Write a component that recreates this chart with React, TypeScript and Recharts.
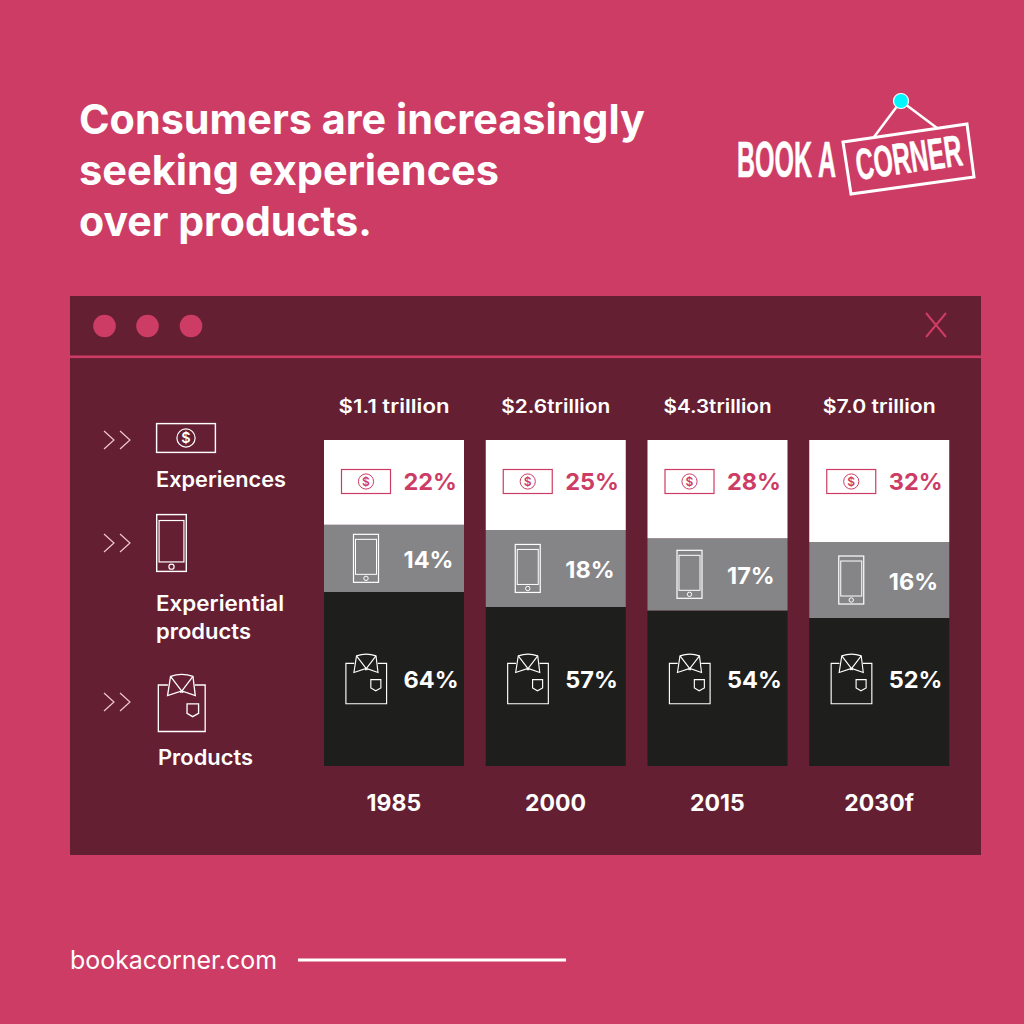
import React from "react";
import { BarChart, Bar, XAxis, YAxis, LabelList } from "recharts";

const years = ["1985", "2000", "2015", "2030f"];
const totals = ["$1.1 trillion", "$2.6trillion", "$4.3trillion", "$7.0 trillion"];
const totalWidths = [111, 109, 108, 113];
// Drawn heights of the segments (share of each bar, as pictured)
const experiencesDrawn = [26.0, 27.6, 30.1, 31.3];
const experientialDrawn = [20.6, 23.6, 22.2, 23.3];
const productsDrawn = [53.4, 48.8, 47.7, 45.4];
// Printed labels
const experiencesLabels = ["22%", "25%", "28%", "32%"];
const experientialLabels = ["14%", "18%", "17%", "16%"];
const productsLabels = ["64%", "57%", "54%", "52%"];
const titleLines = ["Consumers are increasingly", "seeking experiences", "over products."];
const titleWidths = [566, 420, 293];

const data = years.map((year, i) => ({
  year,
  products: productsDrawn[i],
  experiential: experientialDrawn[i],
  experiences: experiencesDrawn[i],
}));

const PINK = "#CD3C64";
const PANEL = "#641F32";
const BLACK = "#1E1E1C";
const GRAY = "#858587";
const FONT = "Inter, Lato, 'Open Sans', sans-serif";
const NARROW = "'Liberation Sans Narrow', 'Liberation Sans', sans-serif";

const Money = ({ x, y, w, h, color }: any) => (
  <svg x={x} y={y} width={w} height={h} viewBox="0 0 50 25" overflow="visible">
    <rect x={0.5} y={0.5} width={49} height={24} fill="none" stroke={color} strokeWidth={1.2} />
    <circle cx={25} cy={12.5} r={7.6} fill="none" stroke={color} strokeWidth={1} />
    <text x={25} y={17} textAnchor="middle" fontSize={12} fontWeight={600} fontFamily={FONT} fill={color}>$</text>
  </svg>
);

const Phone = ({ x, y, w, h, color }: any) => (
  <svg x={x} y={y} width={w} height={h} viewBox="0 0 26 49" overflow="visible">
    <rect x={0.5} y={0.5} width={25} height={48} fill="none" stroke={color} strokeWidth={1.2} />
    <rect x={2.5} y={5.5} width={21} height={35} fill="none" stroke={color} strokeWidth={1} />
    <circle cx={13} cy={44.5} r={2.2} fill="none" stroke={color} strokeWidth={1} />
  </svg>
);

const Shirt = ({ x, y, w, h, color }: any) => (
  <svg x={x} y={y} width={w} height={h} viewBox="0 0 144 178" overflow="visible">
    <g fill="none" stroke={color} strokeWidth={4}>
      <path d="M30 36 H1 V177 H143 V36 H112" />
      <path d="M38 10 Q72 -2 106 10 L113 68 L72 54 L29 68 Z" />
      <path d="M38 10 L76 60 M106 10 L68 60" />
      <path d="M88 93 H123 V122 L105 132 L88 122 Z" />
    </g>
  </svg>
);

const Chevrons = ({ x, y }: any) => (
  <g fill="none" stroke="#F0C6D2" strokeWidth={1.2}>
    <path d={`M${x} ${y} L${x + 10} ${y + 9} L${x} ${y + 18}`} />
    <path d={`M${x + 16} ${y} L${x + 26} ${y + 9} L${x + 16} ${y + 18}`} />
  </g>
);

const Pct = ({ x, y, color, children }: any) => (
  <text x={x} y={y} fontFamily={FONT} fontWeight={700} fontSize={23.5} fill={color}>{children}</text>
);

const experiencesLabel = (p: any) => {
  const { x, y, width, index } = p;
  return (
    <g>
      <text x={x + width / 2 - totalWidths[index] / 2} y={y - 27} fontFamily={FONT} fontWeight={600} fontSize={18.5} fill="#fff" textLength={totalWidths[index]} lengthAdjust="spacingAndGlyphs">
        {totals[index]}
      </text>
      <Money x={x + 17} y={y + 29} w={50} h={25} color={PINK} />
      <Pct x={x + 79.5} y={y + 50} color={PINK}>{experiencesLabels[index]}</Pct>
    </g>
  );
};

const experientialLabel = (p: any) => {
  const { x, y, height, index } = p;
  const c = y + height / 2;
  return (
    <g>
      <Phone x={x + 29} y={c - 24.5} w={26} h={49} color="#fff" />
      <Pct x={x + 79.5} y={c + 9.5} color="#fff">{experientialLabels[index]}</Pct>
    </g>
  );
};

const productsLabel = (p: any) => {
  const { x, y, height, index } = p;
  const b = y + height;
  return (
    <g>
      <Shirt x={x + 21.5} y={b - 113} w={41.5} h={51} color="#fff" />
      <Pct x={x + 79.5} y={b - 78} color="#fff">{productsLabels[index]}</Pct>
    </g>
  );
};

export default function App() {
  return (
    <div style={{ position: "absolute", left: 0, top: 0, width: 1024, height: 1024, background: PINK, overflow: "hidden" }}>
      <svg width={1024} height={1024} style={{ position: "absolute", left: 0, top: 0 }}>
        {titleLines.map((t, i) => (
          <text key={t} x={79} y={134 + i * 51} fontFamily={FONT} fontWeight={700} fontSize={41} fill="#fff" textLength={titleWidths[i]} lengthAdjust="spacingAndGlyphs">{t}</text>
        ))}

        {/* logo */}
        <text x={737} y={177} fontFamily={NARROW} fontWeight={700} fontSize={50} fill="#fff" stroke="#fff" strokeWidth={0.6} textLength={99} lengthAdjust="spacingAndGlyphs">BOOK A</text>
        <polygon points="843,142 967,124 974,177 851,194" fill="none" stroke="#fff" strokeWidth={3} />
        <path d="M874 137 L901 101 L937 128" fill="none" stroke="#fff" strokeWidth={2.5} />
        <circle cx={901} cy={101} r={7.5} fill="#00F5FF" stroke="#fff" strokeWidth={1.2} />
        <text transform="translate(858 180) rotate(-8)" fontFamily={NARROW} fontWeight={700} fontSize={44} fill="#fff" stroke="#fff" strokeWidth={0.5} textLength={107} lengthAdjust="spacingAndGlyphs">CORNER</text>

        {/* window */}
        <rect x={70} y={296} width={911} height={559} fill={PANEL} />
        <rect x={70} y={355.5} width={911} height={2.6} fill={PINK} />
        {[104.5, 147.5, 191].map((cx) => (
          <circle key={cx} cx={cx} cy={326} r={11.3} fill={PINK} />
        ))}
        <path d="M926 313 L946 337 M946 313 L926 337" stroke={PINK} strokeWidth={2} fill="none" />

        {/* legend */}
        <Chevrons x={104} y={431} />
        <Chevrons x={104} y={534} />
        <Chevrons x={104} y={693} />
        <Money x={156} y={423} w={60} h={30} color="#fff" />
        <Phone x={156} y={514} w={31} h={58} color="#fff" />
        <Shirt x={158} y={673} w={47.5} h={59} color="#fff" />
        <g fontFamily={FONT} fontWeight={600} fontSize={21} fill="#fff">
          <text x={156} y={487} textLength={130} lengthAdjust="spacingAndGlyphs">Experiences</text>
          <text x={156} y={611} textLength={128} lengthAdjust="spacingAndGlyphs">Experiential</text>
          <text x={156} y={639} textLength={95} lengthAdjust="spacingAndGlyphs">products</text>
          <text x={158} y={765} textLength={95} lengthAdjust="spacingAndGlyphs">Products</text>
        </g>

        {/* footer */}
        <text x={70} y={969} fontFamily={FONT} fontWeight={400} fontSize={25} fill="#fff" textLength={207} lengthAdjust="spacingAndGlyphs">bookacorner.com</text>
        <rect x={298} y={958.5} width={268} height={3} fill="#fff" />
      </svg>

      <div style={{ position: "absolute", left: 0, top: 0 }}>
        <BarChart
          width={1024}
          height={1024}
          data={data}
          margin={{ top: 440, right: 64, bottom: 228, left: 313 }}
          barSize={140}
        >
          <XAxis
            dataKey="year"
            axisLine={false}
            tickLine={false}
            tickSize={0}
            tickMargin={29}
            height={30}
            tick={{ fill: "#fff", fontFamily: FONT, fontWeight: 700, fontSize: 23 }}
          />
          <YAxis hide domain={[0, 100]} />
          <Bar dataKey="products" stackId="s" fill={BLACK} isAnimationActive={false}>
            <LabelList dataKey="products" content={productsLabel} />
          </Bar>
          <Bar dataKey="experiential" stackId="s" fill={GRAY} isAnimationActive={false}>
            <LabelList dataKey="experiential" content={experientialLabel} />
          </Bar>
          <Bar dataKey="experiences" stackId="s" fill="#FFFFFF" isAnimationActive={false}>
            <LabelList dataKey="experiences" content={experiencesLabel} />
          </Bar>
        </BarChart>
      </div>
    </div>
  );
}
